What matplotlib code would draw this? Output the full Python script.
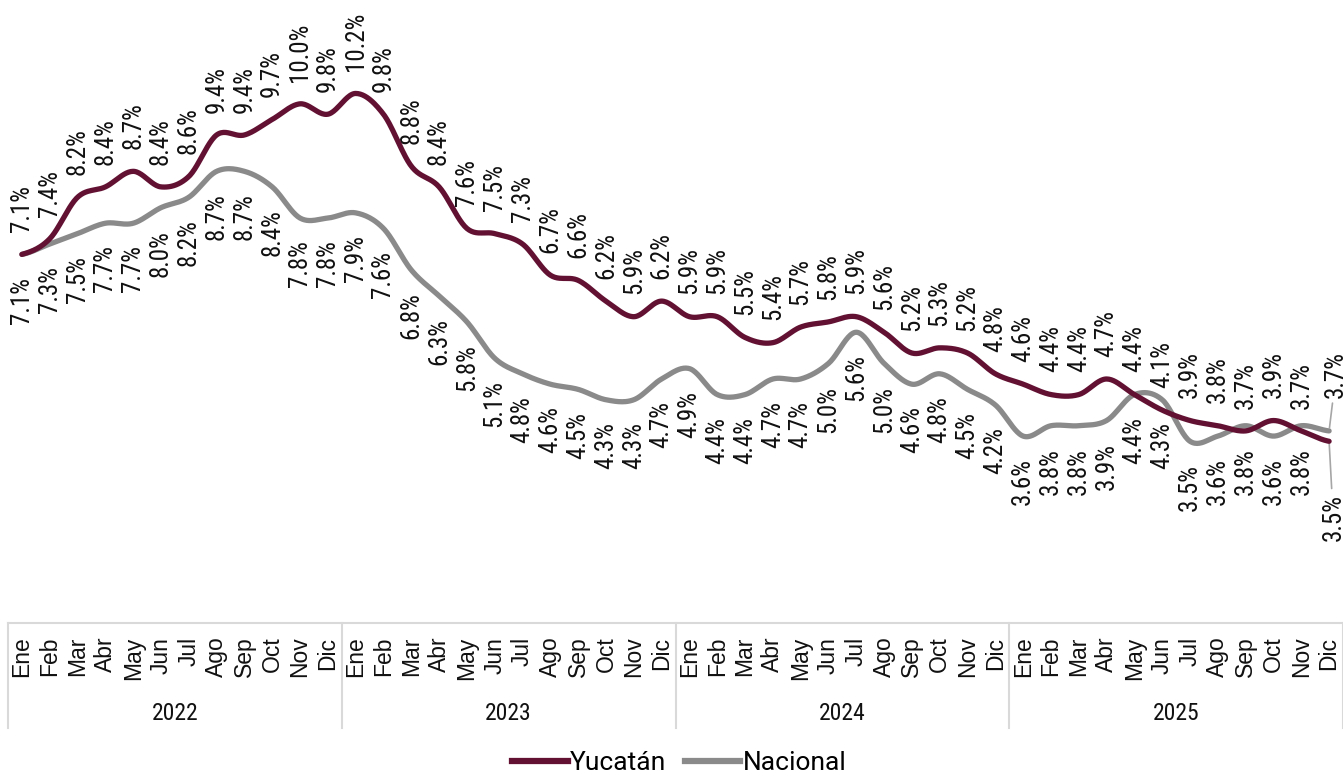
import numpy as np
import matplotlib
matplotlib.use("Agg")
import matplotlib.pyplot as plt
from matplotlib.lines import Line2D

# datos mensuales 2022-2025 (%)
years = ['2022', '2023', '2024', '2025']
months = ['Ene', 'Feb', 'Mar', 'Abr', 'May', 'Jun', 'Jul', 'Ago', 'Sep', 'Oct', 'Nov', 'Dic']

yucatan = [7.1, 7.4, 8.2, 8.4, 8.7, 8.4, 8.6, 9.4, 9.4, 9.7, 10.0, 9.8,
           10.2, 9.8, 8.8, 8.4, 7.6, 7.5, 7.3, 6.7, 6.6, 6.2, 5.9, 6.2,
           5.9, 5.9, 5.5, 5.4, 5.7, 5.8, 5.9, 5.6, 5.2, 5.3, 5.2, 4.8,
           4.6, 4.4, 4.4, 4.7, 4.4, 4.1, 3.9, 3.8, 3.7, 3.9, 3.7, 3.5]
nacional = [7.1, 7.3, 7.5, 7.7, 7.7, 8.0, 8.2, 8.7, 8.7, 8.4, 7.8, 7.8,
            7.9, 7.6, 6.8, 6.3, 5.8, 5.1, 4.8, 4.6, 4.5, 4.3, 4.3, 4.7,
            4.9, 4.4, 4.4, 4.7, 4.7, 5.0, 5.6, 5.0, 4.6, 4.8, 4.5, 4.2,
            3.6, 3.8, 3.8, 3.9, 4.4, 4.3, 3.5, 3.6, 3.8, 3.6, 3.8, 3.7]

C_YUC = '#621132'
C_NAC = '#8a8a8a'
C_GRID = '#d9d9d9'
LABEL_FONT = ['Roboto Condensed', 'Liberation Sans Narrow', 'Roboto', 'DejaVu Sans']


def smooth(y, n=24):
    """curva suavizada tipo Catmull-Rom entre los puntos"""
    y = np.asarray(y, dtype=float)
    xs, ys = [], []
    for i in range(len(y) - 1):
        p0 = y[i - 1] if i > 0 else y[i]
        p1, p2 = y[i], y[i + 1]
        p3 = y[i + 2] if i + 2 < len(y) else y[i + 1]
        t = np.linspace(0, 1, n, endpoint=False)
        seg = 0.5 * ((2 * p1) + (-p0 + p2) * t
                     + (2 * p0 - 5 * p1 + 4 * p2 - p3) * t ** 2
                     + (-p0 + 3 * p1 - 3 * p2 + p3) * t ** 3)
        xs.append(i + t)
        ys.append(seg)
    xs.append([len(y) - 1])
    ys.append([y[-1]])
    return np.concatenate(xs), np.concatenate(ys)


fig = plt.figure(figsize=(13.43, 7.74), dpi=100)
ax = fig.add_axes([8 / 1343, 151 / 774, 1335 / 1343, 623 / 774])
ax.set_xlim(-0.5, 47.5)
ax.set_ylim(0, 12)
ax.axis('off')

x = np.arange(len(yucatan))
sx, sy = smooth(nacional)
ax.plot(sx, sy, color=C_NAC, lw=3.8, solid_capstyle='round', zorder=3)
sx, sy = smooth(yucatan)
ax.plot(sx, sy, color=C_YUC, lw=3.8, solid_capstyle='round', zorder=4)

# etiquetas de datos
n = len(x)
lbl = dict(rotation=90, ha='center', fontsize=18, family=LABEL_FONT,
           color='#111111', textcoords='offset points')
for i in range(n - 1):
    ax.annotate(f'{yucatan[i]:.1f}%', (x[i], yucatan[i]), xytext=(0, 16),
                va='bottom', **lbl)
    ax.annotate(f'{nacional[i]:.1f}%', (x[i], nacional[i]), xytext=(0, -16),
                va='top', **lbl)

# últimos puntos con línea guía
guide = dict(arrowstyle='-', color='#a6a6a6', lw=1.2, shrinkA=2, shrinkB=2)
ax.annotate(f'{yucatan[-1]:.1f}%', (x[-1], yucatan[-1]), xytext=(3, -38),
            va='top', arrowprops=guide, annotation_clip=False, **lbl)
ax.annotate(f'{nacional[-1]:.1f}%', (x[-1], nacional[-1]), xytext=(5, 24),
            va='bottom', arrowprops=guide, annotation_clip=False, **lbl)

# eje de categorías en dos niveles
tr = ax.get_xaxis_transform()
ax.plot([-0.5, 47.5], [0, 0], transform=tr, color=C_GRID, lw=1.5, clip_on=False)
for k in range(len(years) + 1):
    ax.plot([k * 12 - 0.5] * 2, [0, -0.1685], transform=tr, color=C_GRID,
            lw=1.5, clip_on=False)
for i in range(n):
    ax.text(x[i], -0.022, months[i % 12], transform=tr, rotation=90,
            ha='center', va='top', fontsize=16.5, family='Liberation Sans',
            color='#111111')
for k, yr in enumerate(years):
    ax.text(k * 12 + 5.5, -0.1445, yr, transform=tr, ha='center', va='center',
            fontsize=17, family=LABEL_FONT, color='#111111')

handles = [Line2D([], [], color=C_YUC, lw=4.5), Line2D([], [], color=C_NAC, lw=4.5)]
fig.legend(handles, ['Yucatán', 'Nacional'], loc='lower center',
           bbox_to_anchor=(0.506, -0.032), ncol=2, frameon=False,
           prop={'family': ['Roboto', 'DejaVu Sans'], 'size': 19},
           handlelength=2.1, handletextpad=0.1, columnspacing=0.7)

fig.savefig('out.png', dpi=100)
